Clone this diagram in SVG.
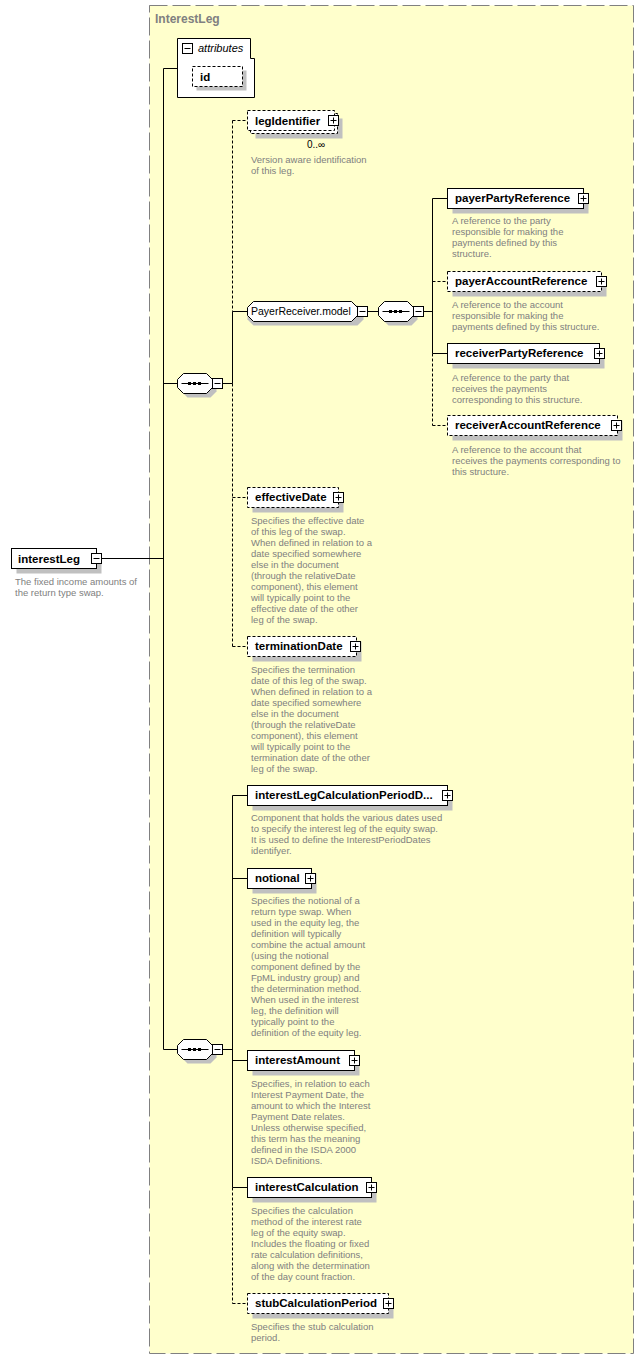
<svg xmlns="http://www.w3.org/2000/svg" xmlns:xlink="http://www.w3.org/1999/xlink" width="644" height="1359" viewBox="0 0 644 1359">
<style>
.el{fill:#fff;stroke:#000;stroke-width:1}
.opt{stroke-dasharray:3,2}
.sh{fill:#c0c0c0}
.ln{stroke:#000;stroke-width:1;fill:none}
.dl{stroke-dasharray:3,2}
.name{font-family:"Liberation Sans",Arial,sans-serif;font-weight:bold;font-size:11.5px;fill:#000}
.desc{font-family:"Liberation Sans",Arial,sans-serif;font-size:9.5px;fill:#808080}
.reg{font-family:"Liberation Sans",Arial,sans-serif;font-size:10.5px;fill:#000}
</style>
<defs>
<g id="plus"><rect x="0" y="0" width="10" height="10" fill="#fff" stroke="#000"/><path d="M2,5H8M5,2V8" stroke="#000" fill="none"/></g>
<g id="minus"><rect x="0" y="0" width="10" height="10" fill="#fff" stroke="#000"/><path d="M2,5H8" stroke="#000" fill="none"/></g>
<g id="seq"><path d="M6,0H29L35,6V14L29,20H6L0,14V6Z" class="sh" transform="translate(4,4)"/><path d="M6,0H29L35,6V14L29,20H6L0,14V6Z" class="el"/><path d="M4,10H31" class="ln"/><rect x="10.5" y="8.5" width="3" height="3" fill="#000"/><rect x="15.5" y="8.5" width="3" height="3" fill="#000"/><rect x="20.5" y="8.5" width="3" height="3" fill="#000"/></g>
</defs>
<rect x="149.5" y="5.5" width="484" height="1348" fill="#ffffcc" stroke="#808080" stroke-dasharray="18,5"/>
<text x="155" y="23" font-family="Liberation Sans,Arial,sans-serif" font-weight="bold" font-size="12" fill="#808080">InterestLeg</text>

<g id="connectors">
<path d="M102,558.5H163.5M163.5,68.5V1049.5M163.5,68.5H177.5M163.5,383.5H177.5M163.5,1049.5H177.5" class="ln"/>
<path d="M222.5,383.5H232.5M232.5,311.5V383.5M232.5,311.5H247.5" class="ln"/>
<path d="M232.5,120.5V311.5M232.5,383.5V646.5M232.5,120.5H247.5M232.5,497.5H247.5M232.5,646.5H247.5" class="ln dl"/>
<path d="M367.5,311.5H378.5M423.5,311.5H432.5M432.5,198.5V353.5M432.5,198.5H447.5M432.5,353.5H447.5" class="ln"/>
<path d="M432.5,353.5V425.5M432.5,281.5H447.5M432.5,425.5H447.5" class="ln dl"/>
<path d="M222.5,1049.5H232.5M232.5,795.5V1187.5M232.5,795.5H247.5M232.5,878.5H247.5M232.5,1060.5H247.5M232.5,1187.5H247.5" class="ln"/>
<path d="M232.5,1187.5V1303.5M232.5,1303.5H247.5" class="ln dl"/>
</g>

<g id="interestLeg">
<rect x="16.5" y="553.5" width="85" height="20" class="sh"/>
<rect x="11.5" y="548.5" width="85" height="20" class="el"/>
<text x="18" y="563" class="name">interestLeg</text>
<use xlink:href="#minus" x="91.5" y="553.5"/>
<text class="desc"><tspan x="15" y="585">The fixed income amounts of</tspan><tspan x="15" y="596">the return type swap.</tspan></text>
</g>

<g id="attributes">
<path d="M177.5,38.5H250.5V58.5H254.5V97.5H177.5Z" class="el"/>
<use xlink:href="#minus" x="182.5" y="43.5"/>
<text x="198" y="52" font-family="Liberation Sans,Arial,sans-serif" font-style="italic" font-size="11" fill="#000">attributes</text>
<rect x="196.5" y="70.5" width="50" height="20" class="sh"/>
<rect x="192.5" y="66.5" width="50" height="20" class="el opt"/>
<text x="200" y="81" class="name">id</text>
</g>

<g id="seq1"><use xlink:href="#seq" x="177.5" y="373.5"/><use xlink:href="#minus" x="212.5" y="378.5"/></g>

<g id="legIdentifier">
<rect x="255.5" y="118.5" width="87" height="20" class="sh"/>
<rect x="250.5" y="113.5" width="87" height="20" class="el opt"/>
<rect x="247.5" y="110.5" width="87" height="20" class="el opt"/>
<text x="255" y="125" class="name">legIdentifier</text>
<use xlink:href="#plus" x="328.5" y="115.5"/>
<text x="307" y="148" font-family="Liberation Sans,Arial,sans-serif" font-size="10" fill="#000">0..∞</text>
<text class="desc"><tspan x="251" y="163">Version aware identification</tspan><tspan x="251" y="174">of this leg.</tspan></text>
</g>

<g id="PayerReceiver.model">
<path d="M253.5,305.5H357.5L363.5,311.5V319.5L357.5,325.5H253.5L247.5,319.5V311.5Z" class="sh" transform="translate(0,0)"/>
<path d="M253.5,301.5H351.5L357.5,307.5V315.5L351.5,321.5H253.5L247.5,315.5V307.5Z" class="el"/>
<text x="251" y="315" class="reg">PayerReceiver.model</text>
<use xlink:href="#minus" x="357.5" y="306.5"/>
</g>

<g id="seq3"><use xlink:href="#seq" x="378.5" y="301.5"/><use xlink:href="#minus" x="413.5" y="306.5"/></g>

<g id="payerPartyReference">
<rect x="452.5" y="193.5" width="136" height="20" class="sh"/>
<rect x="447.5" y="188.5" width="136" height="20" class="el"/>
<text x="455" y="202" class="name">payerPartyReference</text>
<use xlink:href="#plus" x="578.5" y="193.5"/>
<text class="desc"><tspan x="452" y="224">A reference to the party</tspan><tspan x="452" y="235">responsible for making the</tspan><tspan x="452" y="246">payments defined by this</tspan><tspan x="452" y="257">structure.</tspan></text>
</g>

<g id="payerAccountReference">
<rect x="452.5" y="276.5" width="154" height="20" class="sh"/>
<rect x="447.5" y="271.5" width="154" height="20" class="el opt"/>
<text x="455" y="285" class="name">payerAccountReference</text>
<use xlink:href="#plus" x="596.5" y="276.5"/>
<text class="desc"><tspan x="452" y="308">A reference to the account</tspan><tspan x="452" y="319">responsible for making the</tspan><tspan x="452" y="330">payments defined by this structure.</tspan></text>
</g>

<g id="receiverPartyReference">
<rect x="452.5" y="348.5" width="152" height="20" class="sh"/>
<rect x="447.5" y="343.5" width="152" height="20" class="el"/>
<text x="455" y="357" class="name">receiverPartyReference</text>
<use xlink:href="#plus" x="594.5" y="348.5"/>
<text class="desc"><tspan x="452" y="381">A reference to the party that</tspan><tspan x="452" y="392">receives the payments</tspan><tspan x="452" y="403">corresponding to this structure.</tspan></text>
</g>

<g id="receiverAccountReference">
<rect x="452.5" y="420.5" width="170" height="20" class="sh"/>
<rect x="447.5" y="415.5" width="170" height="20" class="el opt"/>
<text x="455" y="429" class="name">receiverAccountReference</text>
<use xlink:href="#plus" x="611.5" y="420.5"/>
<text class="desc"><tspan x="452" y="453">A reference to the account that</tspan><tspan x="452" y="464">receives the payments corresponding to</tspan><tspan x="452" y="475">this structure.</tspan></text>
</g>

<g id="effectiveDate">
<rect x="252.5" y="492.5" width="91" height="20" class="sh"/>
<rect x="247.5" y="487.5" width="91" height="20" class="el opt"/>
<text x="255" y="501" class="name">effectiveDate</text>
<use xlink:href="#plus" x="333.5" y="492.5"/>
<text class="desc"><tspan x="251" y="524">Specifies the effective date</tspan><tspan x="251" y="535">of this leg of the swap.</tspan><tspan x="251" y="546">When defined in relation to a</tspan><tspan x="251" y="557">date specified somewhere</tspan><tspan x="251" y="568">else in the document</tspan><tspan x="251" y="579">(through the relativeDate</tspan><tspan x="251" y="590">component), this element</tspan><tspan x="251" y="601">will typically point to the</tspan><tspan x="251" y="612">effective date of the other</tspan><tspan x="251" y="623">leg of the swap.</tspan></text>
</g>

<g id="terminationDate">
<rect x="252.5" y="641.5" width="109" height="20" class="sh"/>
<rect x="247.5" y="636.5" width="109" height="20" class="el opt"/>
<text x="255" y="650" class="name">terminationDate</text>
<use xlink:href="#plus" x="350.5" y="641.5"/>
<text class="desc"><tspan x="251" y="673">Specifies the termination</tspan><tspan x="251" y="684">date of this leg of the swap.</tspan><tspan x="251" y="695">When defined in relation to a</tspan><tspan x="251" y="706">date specified somewhere</tspan><tspan x="251" y="717">else in the document</tspan><tspan x="251" y="728">(through the relativeDate</tspan><tspan x="251" y="739">component), this element</tspan><tspan x="251" y="750">will typically point to the</tspan><tspan x="251" y="761">termination date of the other</tspan><tspan x="251" y="772">leg of the swap.</tspan></text>
</g>

<g id="seq2"><use xlink:href="#seq" x="177.5" y="1039.5"/><use xlink:href="#minus" x="212.5" y="1044.5"/></g>

<g id="interestLegCalculationPeriodDates">
<rect x="252.5" y="790.5" width="200" height="20" class="sh"/>
<rect x="247.5" y="785.5" width="200" height="20" class="el"/>
<text x="255" y="799" class="name">interestLegCalculationPeriodD...</text>
<use xlink:href="#plus" x="442.5" y="790.5"/>
<text class="desc"><tspan x="251" y="821">Component that holds the various dates used</tspan><tspan x="251" y="832">to specify the interest leg of the equity swap.</tspan><tspan x="251" y="843">It is used to define the InterestPeriodDates</tspan><tspan x="251" y="854">identifyer.</tspan></text>
</g>

<g id="notional">
<rect x="252.5" y="873.5" width="64" height="20" class="sh"/>
<rect x="247.5" y="868.5" width="64" height="20" class="el"/>
<text x="255" y="882" class="name">notional</text>
<use xlink:href="#plus" x="305.5" y="873.5"/>
<text class="desc"><tspan x="251" y="904">Specifies the notional of a</tspan><tspan x="251" y="915">return type swap. When</tspan><tspan x="251" y="926">used in the equity leg, the</tspan><tspan x="251" y="937">definition will typically</tspan><tspan x="251" y="948">combine the actual amount</tspan><tspan x="251" y="959">(using the notional</tspan><tspan x="251" y="970">component defined by the</tspan><tspan x="251" y="981">FpML industry group) and</tspan><tspan x="251" y="992">the determination method.</tspan><tspan x="251" y="1003">When used in the interest</tspan><tspan x="251" y="1014">leg, the definition will</tspan><tspan x="251" y="1025">typically point to the</tspan><tspan x="251" y="1036">definition of the equity leg.</tspan></text>
</g>

<g id="interestAmount">
<rect x="252.5" y="1055.5" width="107" height="20" class="sh"/>
<rect x="247.5" y="1050.5" width="107" height="20" class="el"/>
<text x="255" y="1064" class="name">interestAmount</text>
<use xlink:href="#plus" x="349.5" y="1055.5"/>
<text class="desc"><tspan x="251" y="1087">Specifies, in relation to each</tspan><tspan x="251" y="1098">Interest Payment Date, the</tspan><tspan x="251" y="1109">amount to which the Interest</tspan><tspan x="251" y="1120">Payment Date relates.</tspan><tspan x="251" y="1131">Unless otherwise specified,</tspan><tspan x="251" y="1142">this term has the meaning</tspan><tspan x="251" y="1153">defined in the ISDA 2000</tspan><tspan x="251" y="1164">ISDA Definitions.</tspan></text>
</g>

<g id="interestCalculation">
<rect x="252.5" y="1182.5" width="124" height="20" class="sh"/>
<rect x="247.5" y="1177.5" width="124" height="20" class="el"/>
<text x="255" y="1191" class="name">interestCalculation</text>
<use xlink:href="#plus" x="366.5" y="1182.5"/>
<text class="desc"><tspan x="251" y="1214">Specifies the calculation</tspan><tspan x="251" y="1225">method of the interest rate</tspan><tspan x="251" y="1236">leg of the equity swap.</tspan><tspan x="251" y="1247">Includes the floating or fixed</tspan><tspan x="251" y="1258">rate calculation definitions,</tspan><tspan x="251" y="1269">along with the determination</tspan><tspan x="251" y="1280">of the day count fraction.</tspan></text>
</g>

<g id="stubCalculationPeriod">
<rect x="252.5" y="1298.5" width="141" height="20" class="sh"/>
<rect x="247.5" y="1293.5" width="141" height="20" class="el opt"/>
<text x="255" y="1307" class="name">stubCalculationPeriod</text>
<use xlink:href="#plus" x="383.5" y="1298.5"/>
<text class="desc"><tspan x="251" y="1330">Specifies the stub calculation</tspan><tspan x="251" y="1341">period.</tspan></text>
</g>
</svg>
